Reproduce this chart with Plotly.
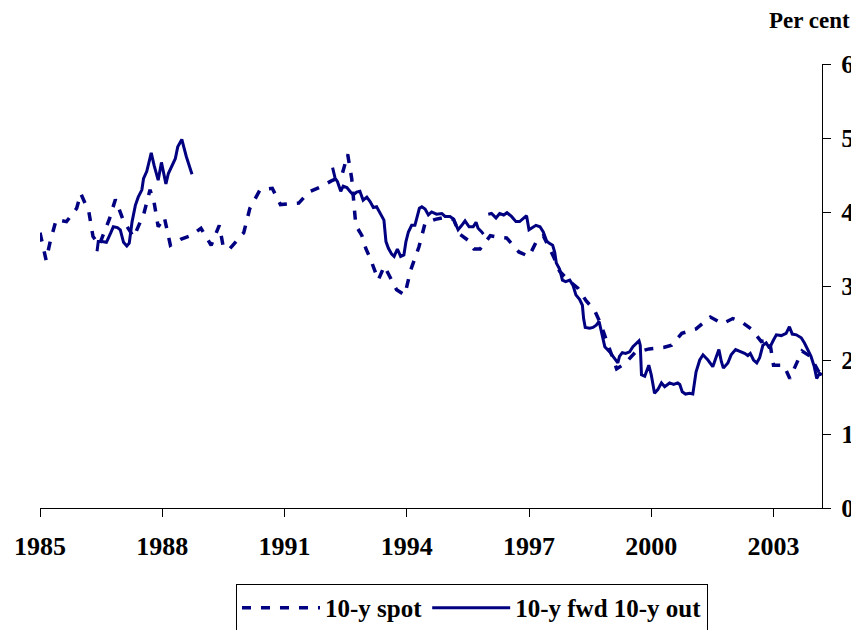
import plotly.graph_objects as go

# 10-y spot (dashed)
spot_x = [1985.0, 1985.15, 1985.25, 1985.4, 1985.65, 1985.9, 1986.0, 1986.2, 1986.3, 1986.45,
          1986.7, 1986.85, 1987.05, 1987.3, 1987.55, 1987.7, 1987.8, 1987.9, 1988.05, 1988.2,
          1988.45, 1988.7, 1988.95, 1989.2, 1989.4, 1989.5, 1989.65, 1990.0, 1990.15, 1990.4,
          1990.7, 1990.9, 1991.35, 1991.6, 1991.85, 1992.15, 1992.4, 1992.55, 1992.65, 1992.7,
          1992.75, 1992.9, 1993.0, 1993.1, 1993.3, 1993.45, 1993.75, 1993.95, 1994.1, 1994.3,
          1994.45, 1994.7, 1994.95, 1995.15, 1995.3, 1995.5, 1995.65, 1995.8, 1996.05, 1996.25,
          1996.45, 1996.75, 1997.0, 1997.2, 1997.35, 1997.6, 1997.75, 1998.0, 1998.2, 1998.4,
          1998.6, 1998.75, 1998.95, 1999.15, 1999.35, 1999.6, 1999.95, 2000.3, 2000.5, 2000.75,
          2001.1, 2001.45, 2001.75, 2002.0, 2002.2, 2002.45, 2002.7, 2002.9, 2003.0, 2003.25,
          2003.4, 2003.55, 2003.7, 2003.9, 2004.1, 2004.19]
spot_y = [3.72, 3.35, 3.6, 3.9, 3.87, 4.05, 4.25, 4.0, 3.67, 3.55,
          3.9, 4.17, 3.88, 3.66, 3.98, 4.3, 4.13, 3.8, 3.93, 3.55,
          3.63, 3.68, 3.78, 3.55, 3.82, 3.52, 3.5, 3.72, 4.05, 4.3,
          4.32, 4.1, 4.12, 4.27, 4.33, 4.42, 4.48, 4.78, 4.45, 4.15,
          3.82, 3.68, 3.5, 3.38, 3.08, 3.27, 2.95, 2.88, 3.22, 3.53,
          3.85, 3.9, 3.93, 3.9, 3.7, 3.62, 3.5, 3.5, 3.68, 3.66,
          3.65, 3.46, 3.4, 3.62, 3.68, 3.4, 3.2, 3.06, 2.97, 2.8,
          2.68, 2.5, 2.2, 1.88, 1.95, 2.1, 2.15, 2.17, 2.2, 2.36,
          2.42, 2.58, 2.49, 2.56, 2.52, 2.42, 2.25, 2.27, 1.93, 1.93,
          1.75, 1.95, 2.12, 2.05, 1.85, 1.8]

# 10-y fwd 10-y out (solid); None marks gaps in the series
fwd_x = [1986.4, 1986.43, 1986.52, 1986.63, 1986.73, 1986.8, 1986.9, 1986.97, 1987.05, 1987.13,
         1987.19, 1987.26, 1987.34, 1987.41, 1987.5, 1987.54, 1987.62, 1987.73, 1987.8, 1987.9,
         1987.98, 1988.03, 1988.09, 1988.15, 1988.24, 1988.32, 1988.38, 1988.48, 1988.59, 1988.73,
         1990.5,
         1992.18, 1992.24, 1992.3, 1992.38, 1992.44, 1992.53, 1992.62, 1992.69, 1992.77, 1992.85,
         1992.93, 1993.02, 1993.1, 1993.18, 1993.26, 1993.36, 1993.44, 1993.49, 1993.55, 1993.63,
         1993.69, 1993.77, 1993.85, 1993.93, 1993.98, 1994.04, 1994.12, 1994.2, 1994.24, 1994.31,
         1994.37, 1994.45, 1994.53, 1994.61, 1994.73, 1994.86, 1994.94, 1995.06, 1995.14, 1995.26,
         1995.35, 1995.43, 1995.53, 1995.63, 1995.7, 1995.75, 1995.84, 1995.88,
         1995.94,
         1996.0, 1996.08, 1996.19, 1996.28, 1996.38, 1996.46, 1996.57, 1996.68, 1996.77, 1996.86,
         1996.94, 1997.0, 1997.09, 1997.17, 1997.27, 1997.35, 1997.43, 1997.49, 1997.58, 1997.63,
         1997.67, 1997.75, 1997.82, 1997.9, 1998.0, 1998.08, 1998.15, 1998.24, 1998.31, 1998.34,
         1998.38, 1998.49, 1998.57, 1998.65, 1998.72, 1998.78, 1998.86, 1998.98, 1999.1, 1999.18,
         1999.22, 1999.29, 1999.37, 1999.47, 1999.55, 1999.63, 1999.7, 1999.73, 1999.76, 1999.84,
         1999.94, 2000.0, 2000.08, 2000.16, 2000.25, 2000.33, 2000.45, 2000.55, 2000.65, 2000.7,
         2000.76, 2000.84, 2000.94, 2001.02, 2001.1, 2001.19, 2001.27, 2001.39, 2001.51, 2001.6,
         2001.66, 2001.72, 2001.77, 2001.88, 2001.96, 2002.07, 2002.17, 2002.29, 2002.37, 2002.43,
         2002.51, 2002.59, 2002.66, 2002.74, 2002.82, 2002.9, 2003.0, 2003.07, 2003.19, 2003.31,
         2003.39, 2003.46, 2003.56, 2003.68, 2003.76, 2003.84, 2003.92, 2004.0, 2004.06, 2004.13,
         2004.19]
fwd_y = [3.47, 3.6, 3.6, 3.59, 3.71, 3.8, 3.79, 3.76, 3.59, 3.54,
         3.58, 3.87, 4.09, 4.2, 4.3, 4.45, 4.55, 4.8, 4.63, 4.43,
         4.67, 4.55, 4.38, 4.52, 4.63, 4.72, 4.88, 4.98, 4.75, 4.51,
         None,
         4.6, 4.46, 4.41, 4.28, 4.35, 4.33, 4.27, 4.23, 4.27, 4.28,
         4.16, 4.2, 4.14, 4.06, 4.07, 3.97, 3.89, 3.6, 3.51, 3.43,
         3.4, 3.5, 3.4, 3.42, 3.6, 3.73, 3.82, 3.82, 3.91, 4.05,
         4.07, 4.04, 3.96, 4.0, 3.97, 3.98, 3.94, 3.94, 3.91, 3.76,
         3.82, 3.88, 3.8, 3.8, 3.86, 3.78, 3.73, 3.7,
         None,
         3.97, 3.98, 3.92, 3.98, 3.96, 3.99, 3.94, 3.87, 3.87, 3.91,
         3.95, 3.76, 3.79, 3.82, 3.8, 3.73, 3.61, 3.58, 3.55, 3.46,
         3.31, 3.23, 3.08, 3.06, 3.08, 3.01, 2.88, 2.82, 2.74, 2.56,
         2.44, 2.43, 2.44, 2.47, 2.52, 2.38, 2.18, 2.11, 2.02, 1.96,
         2.05, 2.1, 2.09, 2.11, 2.18, 2.23, 2.26, 2.2, 1.8, 1.78,
         1.93, 1.8, 1.55, 1.6, 1.69, 1.64, 1.69, 1.67, 1.69, 1.67,
         1.57, 1.54, 1.55, 1.54, 1.84, 2.0, 2.07, 2.0, 1.91, 2.05,
         2.14, 1.98, 1.89, 1.96, 2.07, 2.14, 2.12, 2.09, 2.06, 2.09,
         2.0, 1.96, 2.03, 2.2, 2.23, 2.16, 2.27, 2.34, 2.33, 2.36,
         2.45, 2.35, 2.34, 2.3, 2.23, 2.14, 2.05, 1.91, 1.75, 1.82,
         1.8]

x_ticks = [1985, 1988, 1991, 1994, 1997, 2000, 2003]
y_ticks = [0, 1, 2, 3, 4, 5, 6]

NAVY = "#000080"
FONT = "Liberation Serif"

fig = go.Figure()
fig.add_trace(go.Scatter(x=spot_x, y=spot_y, mode="lines", name="10-y spot",
                         line=dict(color=NAVY, width=3.5, dash="9px,10px")))
fig.add_trace(go.Scatter(x=fwd_x, y=fwd_y, mode="lines", name="10-y fwd 10-y out",
                         line=dict(color=NAVY, width=3), connectgaps=False))

# page body has an 8px margin, so the figure is sized to fill the remaining window
fig.update_layout(
    width=851, height=622,
    margin=dict(l=32, r=37, t=56, b=122, autoexpand=False),
    paper_bgcolor="white", plot_bgcolor="white",
    font=dict(family=FONT, size=24, color="black"),
    showlegend=True,
    legend=dict(orientation="h", xref="container", yref="container",
                x=0.2679, y=0.074, xanchor="left", yanchor="top",
                bordercolor="black", borderwidth=1, bgcolor="white",
                font=dict(family=FONT, size=25, color="black", weight="bold"),
                itemwidth=78, tracegroupgap=0),
    xaxis=dict(range=[1985, 2004.19], tickvals=x_ticks, ticktext=[str(v) for v in x_ticks],
               showline=True, linecolor="black", linewidth=1, ticks="outside", ticklen=8,
               tickcolor="black", showgrid=False, zeroline=False, ticklabelstandoff=7,
               automargin=False,
               tickfont=dict(family=FONT, size=26, color="black", weight="bold")),
    yaxis=dict(range=[0, 6], tickvals=y_ticks, side="right",
               showline=True, linecolor="black", linewidth=1, ticks="outside", ticklen=8,
               tickcolor="black", showgrid=False, zeroline=False, ticklabelstandoff=5,
               automargin=False,
               tickfont=dict(family=FONT, size=26, color="black", weight="bold")),
    annotations=[dict(text="Per cent", xref="paper", yref="paper", x=1.0384, y=1.0,
                      xanchor="right", yanchor="middle", yshift=44, showarrow=False,
                      font=dict(family=FONT, size=23, color="black", weight="bold"))],
)

fig.write_html("out.html")
